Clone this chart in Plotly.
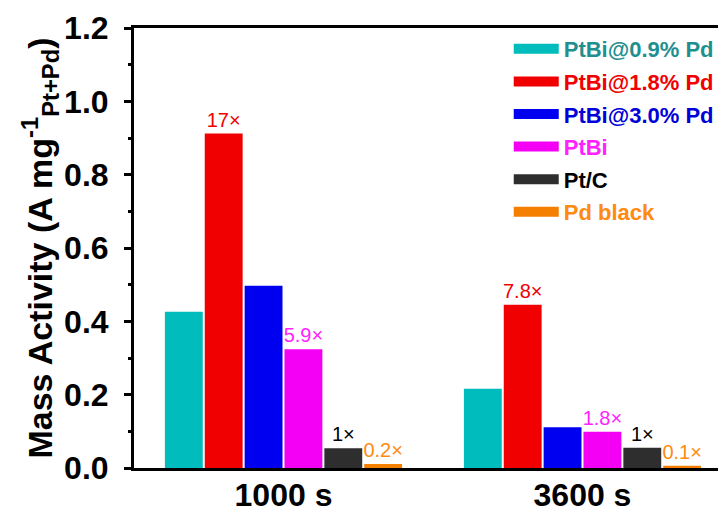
import plotly.graph_objects as go

categories = ["1000 s", "3600 s"]
series_names = ["PtBi@0.9% Pd", "PtBi@1.8% Pd", "PtBi@3.0% Pd", "PtBi", "Pt/C", "Pd black"]
values = [
    [0.426, 0.216],
    [0.912, 0.445],
    [0.497, 0.111],
    [0.324, 0.099],
    [0.054, 0.055],
    [0.011, 0.006],
]
bar_labels = [
    None,
    ["17×", "7.8×"],
    None,
    ["5.9×", "1.8×"],
    ["1×", "1×"],
    ["0.2×", "0.1×"],
]
bar_colors = ["#00bcbc", "#f00000", "#0000f0", "#f400f4", "#2e2e2e", "#f57f00"]
text_colors = ["#1f8f8f", "#f00000", "#0000d8", "#ff22ff", "#000000", "#ff8a10"]

FONT = "Liberation Sans, Arial, sans-serif"

fig = go.Figure()
for i, name in enumerate(series_names):
    bar = dict(
        x=categories, y=values[i], name=name,
        marker=dict(color=bar_colors[i], line=dict(width=0)),
        cliponaxis=False, showlegend=False, legendgroup=name,
    )
    if bar_labels[i] is not None:
        bar.update(text=bar_labels[i], textposition="outside",
                   textfont=dict(family=FONT, size=20, color=text_colors[i]),
                   constraintext="none")
    fig.add_trace(go.Bar(**bar))
for i, name in enumerate(series_names):
    fig.add_trace(go.Scatter(
        x=categories, y=[None, None], mode="lines",
        name="<span style='color:%s'>%s</span>" % (text_colors[i], name),
        line=dict(color=bar_colors[i], width=18),
        legendgroup=name, showlegend=True, hoverinfo="skip",
    ))

# the page places the figure 8 px from the window's top-left corner
fig.update_layout(
    width=718, height=505,
    margin=dict(l=126, r=0, t=20, b=45, autoexpand=False),
    paper_bgcolor="white", plot_bgcolor="white",
    barmode="group", bargap=0.2, bargroupgap=0.05,
    font=dict(family=FONT, color="black"),
    legend=dict(
        x=0.633, y=1.0, xanchor="left", yanchor="top",
        font=dict(family=FONT, size=22, weight="bold"),
        bgcolor="rgba(0,0,0,0)", tracegroupgap=1,
        itemwidth=45,
    ),
    xaxis=dict(
        type="category", range=[-0.5, 1.48], automargin=False,
        showline=True, linewidth=3, linecolor="black", mirror=True,
        ticks="", showgrid=False, zeroline=False, ticklabelstandoff=-3,
        tickfont=dict(family=FONT, size=32, weight="bold", color="black"),
    ),
    yaxis=dict(
        range=[0, 1.2], dtick=0.2, tickformat=".1f", automargin=False,
        showline=True, linewidth=3, linecolor="black",
        ticks="outside", ticklen=7, tickwidth=3, tickcolor="black",
        minor=dict(dtick=0.1, ticks="outside", ticklen=3, tickwidth=3, tickcolor="black"),
        showgrid=False, zeroline=False, ticklabelstandoff=9,
        tickfont=dict(family=FONT, size=32, weight="bold", color="black"),
        title=dict(text="Mass Activity (A mg<sup>-1</sup><sub>Pt+Pd</sub>)",
                   font=dict(family=FONT, size=34, weight="bold", color="black"),
                   standoff=0),
    ),
)

fig.write_html("out.html")
